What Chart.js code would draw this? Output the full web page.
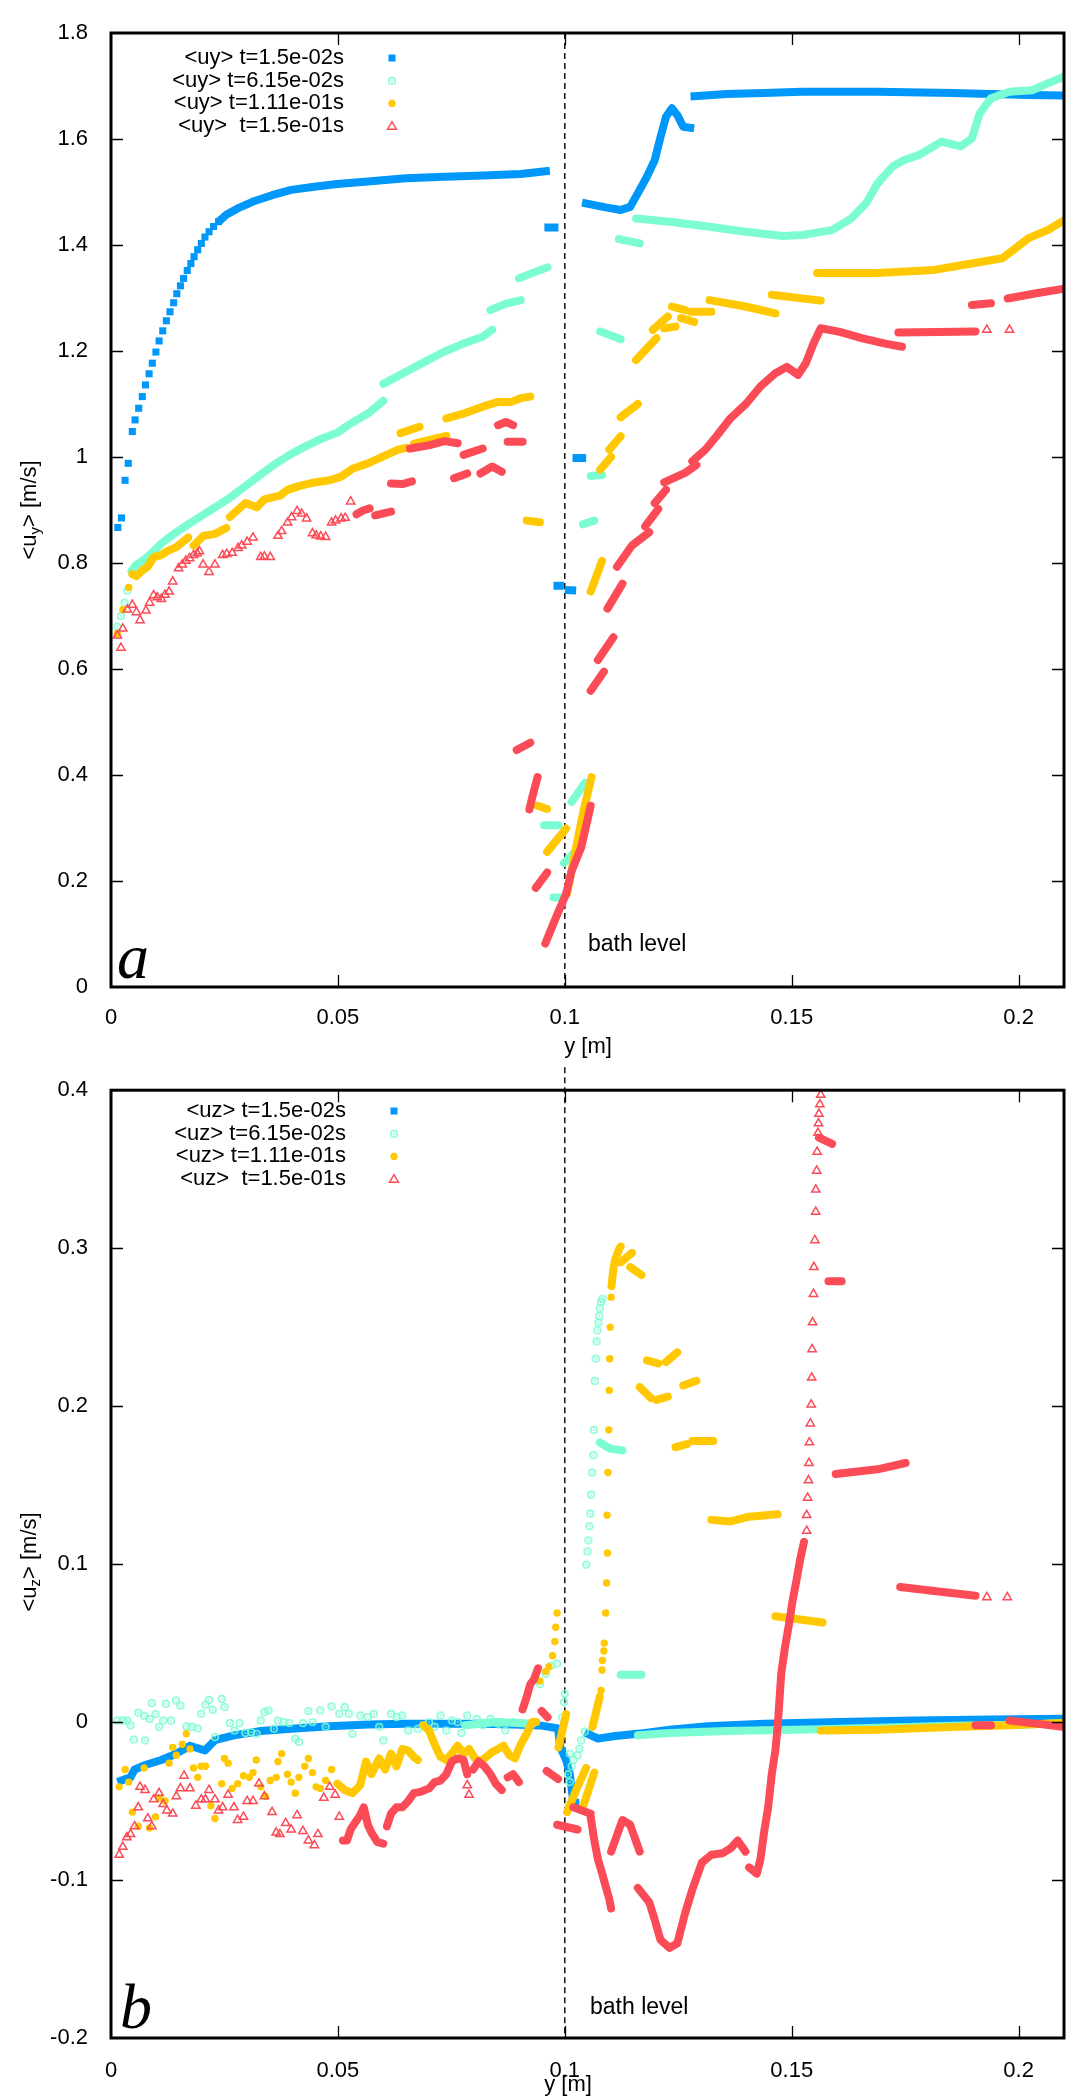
<!DOCTYPE html>
<html><head><meta charset="utf-8">
<script src="https://cdn.jsdelivr.net/npm/chart.js@4/dist/chart.umd.min.js"></script>
<style>
html,body{margin:0;padding:0;background:#fff;}
#wrap{position:relative;width:1092px;height:2096px;overflow:hidden;}
#c1{position:absolute;left:0;top:0;}
#c2{position:absolute;left:0;top:1062px;}
</style></head><body>
<div id="wrap"><canvas id="c1" width="1092" height="1062"></canvas><canvas id="c2" width="1092" height="1034"></canvas></div>
<script>
// ---------------- axis ranges / ticks ----------------
const xRange = [0, 0.21];
const xStep = 0.05;
const uyRange = [0, 1.8];
const uyStep = 0.2;
const uzRange = [-0.2, 0.4];
const uzStep = 0.1;
const bathLevel = 0.1;

const uyLegend = ['<uy> t=1.5e-02s', '<uy> t=6.15e-02s', '<uy> t=1.11e-01s', '<uy>  t=1.5e-01s'];
const uzLegend = ['<uz> t=1.5e-02s', '<uz> t=6.15e-02s', '<uz> t=1.11e-01s', '<uz>  t=1.5e-01s'];

// ---------------- panel a : <uy> ----------------
// t = 1.5e-02 s
const uy015Pts = [[0.0015,0.867],[0.0023,0.885],[0.0031,0.956],[0.0038,0.988],[0.0047,1.048],[0.0053,1.070],[0.0061,1.092],[0.0069,1.114],[0.0076,1.136],[0.0084,1.157],[0.0091,1.177],[0.0099,1.198],[0.0106,1.219],[0.0114,1.238],[0.0122,1.257],[0.0130,1.274],[0.0138,1.291],[0.0145,1.308],[0.0153,1.323],[0.0160,1.337],[0.0168,1.352],[0.0176,1.365],[0.0183,1.378],[0.0191,1.391],[0.0199,1.403],[0.0207,1.415],[0.0216,1.425],[0.0226,1.435],[0.0237,1.444]];
const uy015Band = [[0.0237,1.444],[0.0254,1.457],[0.0279,1.469],[0.0313,1.482],[0.0355,1.494],[0.0397,1.504],[0.0448,1.510],[0.0498,1.515],[0.0566,1.520],[0.0650,1.526],[0.0735,1.529],[0.0819,1.531],[0.0903,1.534],[0.0967,1.540],null,
[0.0955,1.433],[0.0986,1.433],null,
[0.0975,0.757],[0.0998,0.757],null,[0.1000,0.749],[0.1025,0.748],null,
[0.1017,0.998],[0.1047,0.998],null,
[0.1038,1.480],[0.1090,1.471],[0.1123,1.466],[0.1144,1.472],[0.1165,1.504],[0.1181,1.529],[0.1198,1.560],[0.1211,1.604],[0.1223,1.642],[0.1236,1.658],[0.1248,1.645],[0.1261,1.623],[0.1285,1.620],null,
[0.1277,1.680],[0.1356,1.685],[0.1439,1.687],[0.1523,1.689],[0.1689,1.689],[0.1856,1.687],[0.1939,1.685],[0.2022,1.683],[0.2105,1.682]];
// t = 6.15e-02 s
const uy0615Pts = [[0.0014,0.680],[0.0022,0.700],[0.0030,0.725],[0.0036,0.748]];
const uy0615Band = [[0.0045,0.785],[0.0056,0.797],[0.0069,0.804],[0.0079,0.811],[0.0094,0.822],[0.0111,0.837],[0.0128,0.848],[0.0144,0.858],[0.0170,0.873],[0.0203,0.891],[0.0229,0.905],[0.0262,0.923],[0.0296,0.945],[0.0330,0.967],[0.0364,0.988],[0.0397,1.006],[0.0431,1.021],[0.0465,1.035],[0.0499,1.046],[0.0524,1.061],[0.0566,1.082],[0.0600,1.106],null,
[0.0600,1.138],[0.0650,1.161],[0.0692,1.180],[0.0735,1.199],[0.0777,1.214],[0.0819,1.227],[0.0840,1.240],null,
[0.0836,1.277],[0.0869,1.289],[0.0903,1.296],null,
[0.0899,1.337],[0.0928,1.347],[0.0962,1.358],null,
[0.0975,0.169],[0.0994,0.169],null,
[0.0954,0.305],[0.0986,0.305],null,
[0.0998,0.234],[0.1019,0.252],null,
[0.1015,0.349],[0.1044,0.385],null,
[0.1040,0.873],[0.1065,0.880],null,
[0.1057,0.964],[0.1082,0.966],null,
[0.1078,1.237],[0.1123,1.222],null,
[0.1119,1.411],[0.1165,1.403],null,
[0.1157,1.450],[0.1231,1.444],[0.1315,1.435],[0.1398,1.425],[0.1481,1.417],[0.1523,1.419],[0.1589,1.428],[0.1631,1.450],[0.1664,1.479],[0.1689,1.516],[0.1722,1.548],[0.1747,1.560],[0.1781,1.570],[0.1830,1.595],[0.1872,1.586],[0.1897,1.601],[0.1914,1.648],[0.1939,1.677],[0.1980,1.689],[0.2030,1.692],[0.2064,1.705],[0.2101,1.718]];
// t = 1.11e-01 s
const uy111Pts = [[0.0014,0.667],[0.0026,0.712],[0.0039,0.754]];
const uy111Band = [[0.0047,0.779],[0.0056,0.775],[0.0069,0.786],[0.0081,0.793],[0.0094,0.811],[0.0111,0.815],[0.0123,0.822],[0.0144,0.830],[0.0170,0.848],null,
[0.0182,0.833],[0.0203,0.851],[0.0229,0.855],[0.0254,0.866],null,
[0.0262,0.887],[0.0296,0.913],[0.0321,0.905],[0.0338,0.920],[0.0372,0.927],[0.0389,0.938],[0.0414,0.945],[0.0448,0.952],[0.0482,0.956],[0.0507,0.963],[0.0532,0.978],[0.0566,0.988],[0.0600,1.001],[0.0633,1.014],[0.0650,1.017],null,
[0.0638,1.045],[0.0680,1.057],null,
[0.0668,1.025],[0.0739,1.040],null,
[0.0739,1.073],[0.0777,1.082],[0.0819,1.095],[0.0853,1.104],[0.0882,1.104],[0.0903,1.111],[0.0924,1.114],null,
[0.0916,0.880],[0.0945,0.877],null,
[0.0940,0.342],[0.0961,0.336],null,
[0.0961,0.255],[0.1003,0.299],null,
[0.1005,0.176],[0.1023,0.255],[0.1040,0.328],[0.1059,0.396],null,
[0.1057,0.746],[0.1082,0.804],null,
[0.1078,0.976],[0.1102,1.000],null,
[0.1098,1.014],[0.1123,1.039],null,
[0.1123,1.075],[0.1161,1.100],null,
[0.1157,1.183],[0.1202,1.224],null,
[0.1194,1.240],[0.1227,1.265],null,
[0.1219,1.243],[0.1244,1.246],null,
[0.1236,1.284],[0.1265,1.277],null,
[0.1256,1.262],[0.1285,1.255],null,
[0.1277,1.274],[0.1323,1.274],null,
[0.1319,1.296],[0.1398,1.284],[0.1464,1.271],null,
[0.1456,1.306],[0.1564,1.295],null,
[0.1556,1.347],[0.1689,1.347],[0.1814,1.353],[0.1855,1.359],[0.1964,1.375],[0.1989,1.391],[0.2022,1.413],[0.2064,1.428],[0.2101,1.447]];
// t = 1.5e-01 s
const uy15Pts = [[0.0022,0.640],[0.0014,0.663],[0.0026,0.676],[0.0036,0.712],[0.0047,0.721],[0.0056,0.707],[0.0064,0.692],[0.0077,0.710],[0.0085,0.725],[0.0094,0.739],[0.0102,0.735],[0.0111,0.732],[0.0119,0.740],[0.0128,0.746],[0.0136,0.765],[0.0149,0.790],[0.0157,0.797],[0.0165,0.804],[0.0173,0.809],[0.0182,0.815],[0.0190,0.818],[0.0195,0.822],[0.0203,0.797],[0.0216,0.783],[0.0229,0.797],[0.0246,0.815],[0.0255,0.817],[0.0267,0.819],[0.0280,0.828],[0.0288,0.833],[0.0300,0.840],[0.0313,0.848],[0.0330,0.811],[0.0338,0.812],[0.0351,0.811],[0.0368,0.851],[0.0376,0.860],[0.0389,0.876],[0.0398,0.886],[0.0410,0.898],[0.0420,0.893],[0.0431,0.884],[0.0444,0.856],[0.0452,0.852],[0.0462,0.850],[0.0473,0.849],[0.0486,0.876],[0.0495,0.880],[0.0507,0.884],[0.0516,0.885],[0.0528,0.916],[0.1930,1.240],[0.1980,1.240]];
const uy15Band = [[0.0541,0.892],[0.0555,0.899],[0.0570,0.903],null,
[0.0582,0.890],[0.0617,0.897],null,
[0.0617,0.950],[0.0642,0.949],[0.0663,0.954],null,
[0.0659,1.016],[0.0700,1.022],[0.0735,1.030],[0.0764,1.026],null,
[0.0756,0.960],[0.0785,0.969],null,
[0.0777,1.004],[0.0819,1.016],null,
[0.0814,0.969],[0.0840,0.982],[0.0861,0.972],null,
[0.0853,1.060],[0.0870,1.066],[0.0886,1.060],null,
[0.0874,1.029],[0.0907,1.029],null,
[0.0894,0.447],[0.0924,0.461],null,
[0.0922,0.335],[0.0928,0.357],[0.0940,0.396],null,
[0.0936,0.187],[0.0961,0.216],null,
[0.0957,0.082],[0.0980,0.130],[0.1003,0.176],[0.1015,0.219],[0.1036,0.263],[0.1057,0.342],null,
[0.1057,0.559],[0.1086,0.595],null,
[0.1073,0.617],[0.1107,0.660],null,
[0.1094,0.714],[0.1127,0.761],null,
[0.1115,0.793],[0.1148,0.833],[0.1186,0.858],null,
[0.1177,0.869],[0.1206,0.902],null,
[0.1198,0.913],[0.1223,0.938],null,
[0.1219,0.952],[0.1265,0.970],[0.1290,0.985],null,
[0.1281,0.992],[0.1310,1.014],[0.1335,1.040],[0.1365,1.073],[0.1400,1.101],[0.1431,1.133],[0.1464,1.158],[0.1489,1.170],[0.1514,1.155],[0.1531,1.177],[0.1548,1.214],[0.1564,1.243],[0.1606,1.236],[0.1656,1.224],[0.1706,1.214],[0.1743,1.208],null,
[0.1735,1.235],[0.1905,1.237],null,
[0.1897,1.287],[0.1939,1.290],null,
[0.1976,1.299],[0.2039,1.309],[0.2105,1.318]];

// ---------------- panel b : <uz> ----------------
const uz015Pts = [];
const uz015Band = [[0.0014,-0.038],[0.0043,-0.035],[0.0052,-0.030],[0.0077,-0.027],[0.0111,-0.024],[0.0144,-0.020],[0.0174,-0.015],[0.0207,-0.018],[0.0229,-0.0115],[0.0271,-0.0084],[0.0330,-0.0057],[0.0397,-0.0042],[0.0482,-0.0027],[0.0566,-0.0015],[0.0650,-0.0011],[0.0735,-0.0011],[0.0819,-0.0011],[0.0903,-0.0017],[0.0945,-0.0021],[0.0985,-0.0040],[0.0990,-0.016],[0.1003,-0.024],[0.1011,-0.033],[0.1019,-0.051],[0.1032,-0.051],null,
[0.1044,-0.0065],[0.1073,-0.0105],[0.1107,-0.0090],[0.1165,-0.0073],[0.1231,-0.0048],[0.1315,-0.0027],[0.1439,-0.0011],[0.1606,0.0],[0.1772,0.0010],[0.1939,0.0017],[0.2105,0.0021]];
const uz0615Pts = [[0.0014,0.001],[0.0026,0.001],[0.0036,0.001],[0.0043,-0.002],[0.0050,-0.011],[0.0060,0.006],[0.0073,0.004],[0.0075,-0.0116],[0.0085,0.002],[0.0090,0.012],[0.0098,0.005],[0.0106,-0.003],[0.0115,0.001],[0.0121,0.0116],[0.0132,0.001],[0.0143,0.0137],[0.0153,0.0105],[0.0166,-0.0027],[0.0178,-0.003],[0.0191,-0.004],[0.0199,0.0053],[0.0208,0.011],[0.0216,0.0141],[0.0224,0.0078],[0.0229,-0.0095],[0.0244,0.0147],[0.0250,0.0095],[0.0262,-0.0006],[0.0272,-0.0053],[0.0283,-0.0006],[0.0296,-0.0069],[0.0309,-0.0063],[0.0321,-0.0074],[0.0330,0.001],[0.0338,0.0063],[0.0347,0.0074],[0.0359,-0.0042],[0.0368,0.001],[0.0380,0.0],[0.0393,-0.0006],[0.0406,-0.0105],[0.0414,-0.0126],[0.0423,-0.0006],[0.0435,0.007],[0.0444,0.0],[0.0461,0.0074],[0.0473,-0.003],[0.0486,0.0099],[0.0503,0.0053],[0.0515,0.0095],[0.0524,0.0053],[0.0532,-0.0074],[0.0549,0.0042],[0.0566,0.0032],[0.0579,0.0053],[0.0591,-0.003],[0.0600,-0.0116],[0.0617,0.0053],[0.0629,0.0032],[0.0642,0.0042],[0.0655,-0.0053],[0.0676,-0.0042],[0.0688,-0.002],[0.0701,0.0],[0.0713,-0.003],[0.0726,0.0042],[0.0739,-0.0053],[0.0751,0.001],[0.0764,0.0],[0.0772,-0.0069],[0.0785,0.0042],[0.0806,0.002],[0.0819,-0.002],[0.0836,0.002],[0.0853,-0.0011],[0.0869,-0.0053],[0.0886,0.0],[0.0903,-0.0006],[0.0920,-0.002],[0.0945,0.024],[0.0958,0.0305],[0.0970,0.0357],[0.0983,0.037],
[0.1000,0.018],[0.0998,0.0126],[0.0994,0.003],[0.1011,-0.020],[0.1015,-0.028],[0.1007,-0.033],[0.1011,-0.038],[0.1019,-0.024],[0.1028,-0.021],[0.1032,-0.017],[0.1036,-0.0116],[0.1044,-0.006],
[0.1047,0.0996],[0.1050,0.108],[0.1052,0.115],[0.1054,0.124],[0.1056,0.132],[0.1058,0.144],[0.1060,0.158],[0.1063,0.169],[0.1064,0.185],[0.1066,0.216],[0.1068,0.230],[0.1070,0.241],[0.1072,0.248],[0.1074,0.253],[0.1076,0.257],[0.1077,0.262],[0.1080,0.266],[0.1083,0.268]];
const uz0615Band = [[0.0780,-0.002],[0.0850,0.000],[0.0930,-0.001],null,
[0.1077,0.177],[0.1100,0.173],[0.1127,0.172],null,
[0.1123,0.030],[0.1169,0.030],null,
[0.1161,-0.0084],[0.1231,-0.0069],[0.1356,-0.0057],[0.1564,-0.0046],[0.1689,-0.0036],[0.1855,-0.0023],[0.2022,-0.0015],[0.2105,-0.0006]];
const uz111Pts = [[0.0018,-0.041],[0.0031,-0.030],[0.0039,-0.038],[0.0047,-0.057],[0.0060,-0.066],[0.0073,-0.029],[0.0085,-0.067],[0.0098,-0.060],[0.0106,-0.048],[0.0119,-0.050],[0.0128,-0.026],[0.0136,-0.016],[0.0144,-0.021],[0.0157,-0.014],[0.0166,-0.0074],[0.0174,-0.017],[0.0182,-0.029],[0.0191,-0.035],[0.0199,-0.028],[0.0208,-0.028],[0.0220,-0.053],[0.0229,-0.061],[0.0244,-0.039],[0.0250,-0.023],[0.0258,-0.026],[0.0267,-0.042],[0.0279,-0.039],[0.0292,-0.034],[0.0305,-0.035],[0.0313,-0.032],[0.0320,-0.024],[0.0330,-0.041],[0.0340,-0.047],[0.0351,-0.037],[0.0364,-0.035],[0.0368,-0.025],[0.0376,-0.020],[0.0389,-0.033],[0.0397,-0.038],[0.0406,-0.045],[0.0414,-0.035],[0.0427,-0.028],[0.0435,-0.023],[0.0444,-0.032],[0.0452,-0.041],[0.0461,-0.042],[0.0473,-0.037],[0.0486,-0.030],
[0.0945,0.026],[0.0958,0.032],[0.0965,0.035],[0.0973,0.042],[0.0978,0.051],[0.0980,0.060],[0.0983,0.069],
[0.1080,0.020],[0.1082,0.033],[0.1083,0.039],[0.1086,0.045],[0.1087,0.050],[0.1090,0.069],[0.1092,0.088],[0.1094,0.107],[0.1093,0.131],[0.1095,0.158],[0.1097,0.185],[0.1098,0.210],[0.1099,0.230],[0.1100,0.250],[0.1102,0.269]];
const uz111Band = [[0.0499,-0.039],[0.0515,-0.043],[0.0532,-0.045],[0.0549,-0.040],[0.0562,-0.025],[0.0574,-0.033],[0.0591,-0.023],[0.0604,-0.030],[0.0617,-0.020],[0.0629,-0.028],[0.0642,-0.017],[0.0655,-0.018],[0.0667,-0.022],[0.0676,-0.024],null,
[0.0688,-0.002],[0.0701,-0.0053],[0.0713,-0.014],[0.0726,-0.022],[0.0739,-0.024],[0.0751,-0.020],[0.0764,-0.015],[0.0777,-0.020],[0.0789,-0.017],[0.0802,-0.023],[0.0814,-0.025],[0.0827,-0.022],[0.0840,-0.019],[0.0853,-0.017],[0.0865,-0.015],[0.0878,-0.021],[0.0890,-0.023],[0.0903,-0.014],[0.0916,-0.0074],[0.0928,0.0],[0.0937,0.0],null,
[0.0986,-0.016],[0.1003,0.005],null,
[0.1005,-0.057],[0.1028,-0.041],[0.1047,-0.029],null,
[0.1042,-0.052],[0.1065,-0.032],null,
[0.1061,-0.003],[0.1077,0.016],null,
[0.1103,0.276],[0.1107,0.287],[0.1111,0.293],[0.1119,0.299],[0.1123,0.301],null,
[0.1123,0.291],[0.1148,0.297],null,
[0.1144,0.288],[0.1169,0.283],null,
[0.1165,0.212],[0.1190,0.205],null,
[0.1181,0.229],[0.1206,0.227],null,
[0.1202,0.204],[0.1227,0.206],null,
[0.1223,0.228],[0.1248,0.234],null,
[0.1244,0.174],[0.1269,0.176],null,
[0.1261,0.213],[0.1290,0.216],null,
[0.1281,0.178],[0.1327,0.178],null,
[0.1323,0.128],[0.1365,0.127],[0.1406,0.130],[0.1469,0.1315],null,
[0.1464,0.067],[0.1568,0.063],null,
[0.1564,-0.0053],[0.1689,-0.0048],[0.1855,-0.0032],[0.1980,-0.002],[0.2105,-0.0006]];
const uz15Pts = [[0.0018,-0.084],[0.0026,-0.079],[0.0035,-0.073],[0.0043,-0.071],[0.0052,-0.066],[0.0060,-0.054],[0.0064,-0.041],[0.0075,-0.043],[0.0081,-0.061],[0.0090,-0.066],[0.0094,-0.049],[0.0106,-0.045],[0.0115,-0.052],[0.0123,-0.056],[0.0136,-0.058],[0.0144,-0.047],[0.0153,-0.042],[0.0161,-0.034],[0.0174,-0.042],[0.0187,-0.053],[0.0199,-0.049],[0.0208,-0.049],[0.0216,-0.043],[0.0229,-0.049],[0.0237,-0.056],[0.0246,-0.054],[0.0258,-0.046],[0.0271,-0.054],[0.0279,-0.062],[0.0292,-0.060],[0.0300,-0.050],[0.0313,-0.050],[0.0326,-0.039],[0.0338,-0.047],[0.0355,-0.057],[0.0364,-0.070],[0.0372,-0.071],[0.0385,-0.064],[0.0397,-0.068],[0.0410,-0.059],[0.0423,-0.069],[0.0435,-0.075],[0.0448,-0.078],[0.0456,-0.071],[0.0469,-0.048],[0.0482,-0.041],[0.0494,-0.046],[0.0503,-0.060],[0.0789,-0.046],[0.0785,-0.040],
[0.1533,0.121],[0.1533,0.131],[0.1535,0.142],[0.1537,0.153],[0.1538,0.164],[0.1539,0.177],[0.1541,0.189],[0.1543,0.201],[0.1544,0.218],[0.1545,0.236],[0.1546,0.253],[0.1548,0.271],[0.1549,0.288],[0.1551,0.305],[0.1553,0.323],[0.1553,0.337],[0.1555,0.349],[0.1556,0.361],[0.1558,0.373],[0.1559,0.379],[0.1560,0.385],[0.1562,0.391],[0.1564,0.397],[0.1930,0.079],[0.1975,0.079]];
const uz15Band = [[0.0511,-0.075],[0.0520,-0.075],[0.0528,-0.068],[0.0537,-0.064],[0.0549,-0.059],[0.0557,-0.054],[0.0566,-0.065],[0.0574,-0.070],[0.0587,-0.076],[0.0600,-0.077],null,
[0.0608,-0.066],[0.0617,-0.058],[0.0629,-0.054],[0.0642,-0.054],[0.0655,-0.050],[0.0667,-0.045],[0.0684,-0.044],[0.0701,-0.042],[0.0713,-0.038],[0.0726,-0.037],[0.0739,-0.033],[0.0751,-0.025],[0.0764,-0.023],[0.0777,-0.024],[0.0785,-0.033],null,
[0.0798,-0.030],[0.0810,-0.025],[0.0823,-0.028],[0.0836,-0.033],[0.0848,-0.039],[0.0861,-0.043],null,
[0.0874,-0.035],[0.0886,-0.033],[0.0899,-0.038],null,
[0.0907,0.008],[0.0916,0.016],[0.0924,0.024],[0.0932,0.027],[0.0941,0.034],null,
[0.0949,0.007],[0.0962,0.003],null,
[0.0960,-0.031],[0.0985,-0.036],null,
[0.0983,-0.065],[0.1028,-0.068],null,
[0.1019,-0.054],[0.1057,-0.058],null,
[0.1057,-0.060],[0.1065,-0.075],[0.1073,-0.087],[0.1082,-0.0955],[0.1090,-0.104],[0.1098,-0.112],[0.1102,-0.118],null,
[0.1102,-0.082],[0.1127,-0.062],[0.1144,-0.065],[0.1165,-0.082],null,
[0.1161,-0.105],[0.1186,-0.114],[0.1198,-0.125],[0.1211,-0.138],[0.1231,-0.143],[0.1248,-0.140],[0.1265,-0.121],[0.1281,-0.106],[0.1302,-0.089],[0.1323,-0.084],[0.1348,-0.083],[0.1365,-0.080],[0.1381,-0.075],[0.1398,-0.082],null,
[0.1406,-0.092],[0.1423,-0.096],[0.1431,-0.087],[0.1439,-0.070],[0.1448,-0.054],[0.1456,-0.033],[0.1464,-0.018],[0.1469,-0.003],[0.1473,0.014],[0.1477,0.031],[0.1485,0.047],[0.1494,0.062],[0.1502,0.077],[0.1510,0.089],[0.1518,0.102],[0.1527,0.114],null,
[0.1560,0.370],[0.1589,0.366],null,
[0.1581,0.279],[0.1610,0.279],null,
[0.1597,0.157],[0.1689,0.160],[0.1751,0.164],null,
[0.1739,0.0855],[0.1814,0.083],[0.1905,0.080],null,
[0.1905,-0.002],[0.1939,-0.002],null,
[0.1980,0.001],[0.2039,-0.001],[0.2105,-0.0033]];

// ---------------- styles ----------------
const FONT = '"Liberation Sans", Arial, Helvetica, sans-serif';
const COL = {blue:'#0097fb', cyan:'#7cfcd2', gold:'#ffc800', red:'#fb4b57'};

function ringImage(color){
  const c = document.createElement('canvas'); c.width = 10; c.height = 10;
  const g = c.getContext('2d');
  g.strokeStyle = color; g.lineWidth = 1.5;
  g.beginPath(); g.arc(5,5,3.3,0,Math.PI*2); g.stroke();
  g.fillStyle = color; g.beginPath(); g.arc(5,5,0.9,0,Math.PI*2); g.fill();
  return c;
}
const ringImg = ringImage(COL.cyan);

const styles = [
  {color:COL.blue, order:4, bw:8, cap:'butt', pt:{pointStyle:'rect', pointRadius:5, pointBorderWidth:0, pointBackgroundColor:COL.blue, pointBorderColor:COL.blue}},
  {color:COL.cyan, order:3, bw:8, cap:'round', pt:{pointStyle:ringImg, pointRadius:5}},
  {color:COL.gold, order:2, bw:8, cap:'round', pt:{pointStyle:'circle', pointRadius:3.7, pointBorderWidth:0, pointBackgroundColor:COL.gold, pointBorderColor:COL.gold}},
  {color:COL.red, order:1, bw:8, cap:'round', pt:{pointStyle:'triangle', pointRadius:4.8, pointBorderWidth:1.5, pointBackgroundColor:'rgba(0,0,0,0)', pointBorderColor:COL.red}}
];

function toSegs(arr){
  const out=[]; let cur=[];
  for(const p of arr){ if(p===null){ if(cur.length) out.push(cur); cur=[]; } else cur.push({x:p[0], y:p[1]}); }
  if(cur.length) out.push(cur);
  return out;
}
function buildDatasets(series){
  const ds=[];
  series.forEach((s,i)=>{
    const st = styles[i];
    toSegs(s.band).forEach(seg=>{
      ds.push({data:seg, showLine:true, borderColor:st.color, backgroundColor:st.color, borderWidth:st.bw, borderCapStyle:st.cap, borderJoinStyle:'round', tension:0, pointRadius:0, order:st.order});
    });
    if(s.pts.length){
      ds.push(Object.assign({data:s.pts.map(p=>({x:p[0],y:p[1]})), showLine:false, order:st.order}, st.pt));
    }
  });
  return ds;
}
const fmt = v => String(Math.round(v*1000)/1000);

function drawMarker(ctx, i, x, y){
  const st = styles[i];
  ctx.save();
  if(i===0){ ctx.fillStyle=st.color; ctx.fillRect(x-3.5,y-3.5,7,7); }
  else if(i===1){ ctx.drawImage(ringImg, x-5, y-5); }
  else if(i===2){ ctx.fillStyle=st.color; ctx.beginPath(); ctx.arc(x,y,3.6,0,Math.PI*2); ctx.fill(); }
  else { ctx.strokeStyle=st.color; ctx.lineWidth=1.4; ctx.beginPath(); ctx.moveTo(x,y-4.5); ctx.lineTo(x+4.5,y+3.2); ctx.lineTo(x-4.5,y+3.2); ctx.closePath(); ctx.stroke(); }
  ctx.restore();
}

function decorPlugin(cfg){
  return {
    id:'decor'+cfg.id,
    beforeDatasetsDraw(chart){
      const {ctx, chartArea:a, scales:{x}} = chart;
      const px = x.getPixelForValue(bathLevel);
      ctx.save();
      ctx.strokeStyle='#000'; ctx.lineWidth=1.4; ctx.setLineDash([6,4]);
      ctx.beginPath(); ctx.moveTo(px, a.top - cfg.dashOver); ctx.lineTo(px, a.bottom); ctx.stroke();
      ctx.restore();
    },
    afterDraw(chart){
      const {ctx, chartArea:a, scales:{x,y}} = chart;
      ctx.save();
      ctx.strokeStyle='#000'; ctx.lineWidth=1.3; ctx.setLineDash([]);
      const L=12;
      x.ticks.forEach(t=>{
        const px = Math.round(x.getPixelForValue(t.value))+0.5;
        if(px<=a.left+2 || px>=a.right-2) return;
        ctx.beginPath(); ctx.moveTo(px,a.bottom); ctx.lineTo(px,a.bottom-L); ctx.moveTo(px,a.top); ctx.lineTo(px,a.top+L); ctx.stroke();
      });
      y.ticks.forEach(t=>{
        const py = Math.round(y.getPixelForValue(t.value))+0.5;
        if(py<=a.top+2 || py>=a.bottom-2) return;
        ctx.beginPath(); ctx.moveTo(a.left,py); ctx.lineTo(a.left+L,py); ctx.moveTo(a.right,py); ctx.lineTo(a.right-L,py); ctx.stroke();
      });
      ctx.lineWidth=3;
      ctx.strokeRect(a.left, a.top, a.right-a.left, a.bottom-a.top);
      ctx.fillStyle='#000'; ctx.font='22px '+FONT; ctx.textAlign='right'; ctx.textBaseline='middle';
      cfg.legend.forEach((txt,i)=>{
        const ry = cfg.legendY + i*22.7;
        ctx.fillText(txt, cfg.legendTextX, ry);
        drawMarker(ctx, i, cfg.legendMarkX, ry);
      });
      ctx.textAlign='left'; ctx.font='23px '+FONT;
      ctx.fillText('bath level', cfg.bathX, cfg.bathY);
      ctx.font='italic 64px "Liberation Serif", "Times New Roman", serif'; ctx.textBaseline='alphabetic';
      ctx.fillText(cfg.letter, cfg.letterX, cfg.letterY);
      ctx.font='22px '+FONT; ctx.textAlign='center'; ctx.textBaseline='middle';
      ctx.fillText('y [m]', cfg.xTitleX, cfg.xTitleY);
      ctx.translate(cfg.yTitleX, cfg.yTitleY); ctx.rotate(-Math.PI/2);
      const f1='22px '+FONT, f2='15px '+FONT;
      ctx.font=f1; const w1=ctx.measureText('<u').width, w3=ctx.measureText('> [m/s]').width;
      ctx.font=f2; const w2=ctx.measureText(cfg.sub).width;
      let tx=-(w1+w2+w3)/2;
      ctx.textAlign='left';
      ctx.font=f1; ctx.fillText('<u', tx, 0); tx+=w1;
      ctx.font=f2; ctx.fillText(cfg.sub, tx, 6); tx+=w2;
      ctx.font=f1; ctx.fillText('> [m/s]', tx, 0);
      ctx.restore();
    }
  };
}

function makeChart(canvasId, series, yr, ystep, pad, xAxisH, xTickPad, cfg){
  return new Chart(document.getElementById(canvasId), {
    type:'scatter',
    data:{datasets: buildDatasets(series)},
    options:{
      responsive:false, animation:false, devicePixelRatio:1, events:[],
      layout:{padding:pad},
      plugins:{legend:{display:false}, tooltip:{enabled:false}},
      scales:{
        x:{type:'linear', min:xRange[0], max:xRange[1],
           grid:{display:false}, border:{display:false},
           ticks:{stepSize:xStep, includeBounds:false, padding:xTickPad, color:'#000', font:{family:FONT, size:22}, callback:fmt, maxRotation:0, autoSkip:false},
           afterFit(s){ s.height = xAxisH; }},
        y:{type:'linear', min:yr[0], max:yr[1],
           grid:{display:false}, border:{display:false},
           ticks:{stepSize:ystep, includeBounds:false, padding:15, color:'#000', font:{family:FONT, size:22}, callback:fmt, autoSkip:false},
           afterFit(s){ s.width = 111; }}
      }
    },
    plugins:[decorPlugin(cfg)]
  });
}

makeChart('c1', [
  {pts:uy015Pts, band:uy015Band},
  {pts:uy0615Pts, band:uy0615Band},
  {pts:uy111Pts, band:uy111Band},
  {pts:uy15Pts, band:uy15Band}
], uyRange, uyStep, {left:0, right:28, top:33, bottom:0}, 75, 10,
 {id:1, dashOver:0, legend:uyLegend, legendY:58, legendTextX:344, legendMarkX:392, bathX:588, bathY:945, letter:'a', letterX:117, letterY:978, xTitleX:588, xTitleY:1047, yTitleX:30, yTitleY:510, sub:'y'});

makeChart('c2', [
  {pts:uz015Pts, band:uz015Band},
  {pts:uz0615Pts, band:uz0615Band},
  {pts:uz111Pts, band:uz111Band},
  {pts:uz15Pts, band:uz15Band}
], uzRange, uzStep, {left:0, right:28, top:24, bottom:0}, 58, 12,
 {id:2, dashOver:23, legend:uzLegend, legendY:49, legendTextX:346, legendMarkX:394, bathX:590, bathY:946, letter:'b', letterX:120, letterY:966, xTitleX:568, xTitleY:1023, yTitleX:30, yTitleY:500, sub:'z'});
</script></body></html>
